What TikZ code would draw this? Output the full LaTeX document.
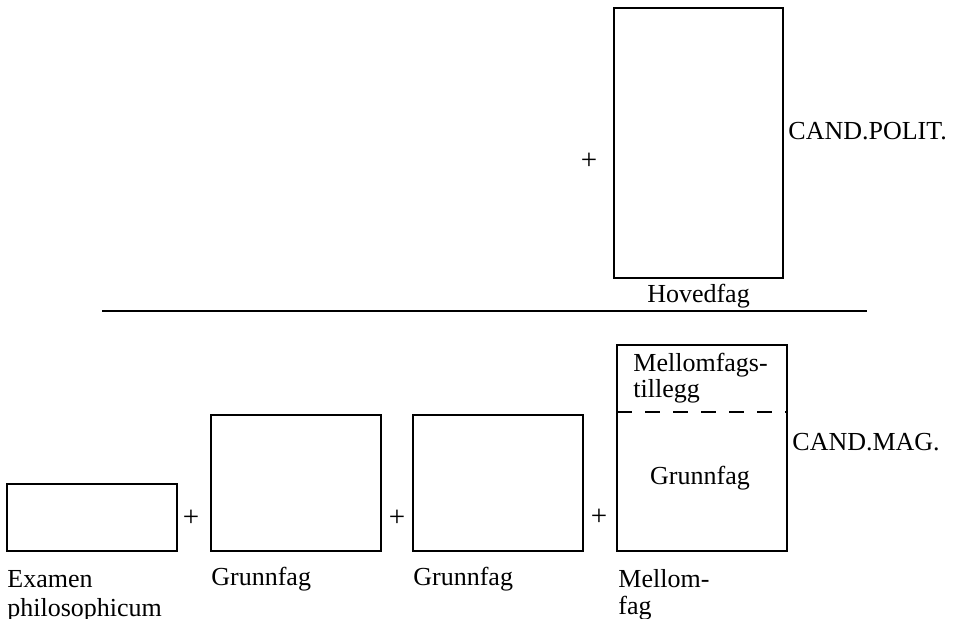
\documentclass[tikz,border=0pt]{standalone}
\usepackage{fontspec}
\setmainfont{Liberation Serif}
\begin{document}
\begin{tikzpicture}[x=0.5pt,y=-0.5pt,
  box/.style={draw=black,line width=1pt},
  lbl/.style={inner sep=0pt,anchor=base west,font=\fontsize{13}{15}\selectfont},
  clbl/.style={inner sep=0pt,anchor=base,font=\fontsize{13}{15}\selectfont},
  plus/.style={inner sep=0pt,anchor=center,font=\fontsize{14.5}{16}\selectfont},
  sep/.style={draw=black,line width=0.8pt}]
\useasboundingbox (0,0) rectangle (957,619);
% upper part
\draw[box] (614,8) rectangle (783,278);
\node[plus] (ptop) at (589,161) {+};
\node[lbl] (candpolit) at (788,140) {CAND.POLIT.};
\node[clbl] (hovedfag) at (698.5,303) {Hovedfag};
% separator
\coordinate (sepL) at (102,311);
\coordinate (sepR) at (867,311);
\draw[sep] (sepL) -- (sepR);
% lower part
\draw[box] (7,484) rectangle (177,551);
\node[plus] (p1) at (191,518) {+};
\draw[box] (211,415) rectangle (381,551);
\node[plus] (p2) at (397,518) {+};
\draw[box] (413,415) rectangle (583,551);
\node[plus] (p3) at (599,517) {+};
\draw[box] (617,345) rectangle (787,551);
\draw[line width=1pt,dash pattern=on 7.5pt off 6.5pt] (617,412) -- (787,412);
\node[lbl] (mft1) at (633,372) {Mellomfags-};
\node[lbl] (mft2) at (633,398) {tillegg};
\node[clbl] (gfin) at (700,484) {Grunnfag};
\node[lbl] (candmag) at (792,451) {CAND.MAG.};
% labels below
\node[lbl] (ex1) at (7,587) {Examen};
\node[lbl] (ex2) at (7,616) {philosophicum};
\node[lbl] (g1) at (211,585) {Grunnfag};
\node[lbl] (g2) at (413,585) {Grunnfag};
\node[lbl] (m1) at (618,587) {Mellom-};
\node[lbl] (m2) at (618,614) {fag};
\end{tikzpicture}
\end{document}
